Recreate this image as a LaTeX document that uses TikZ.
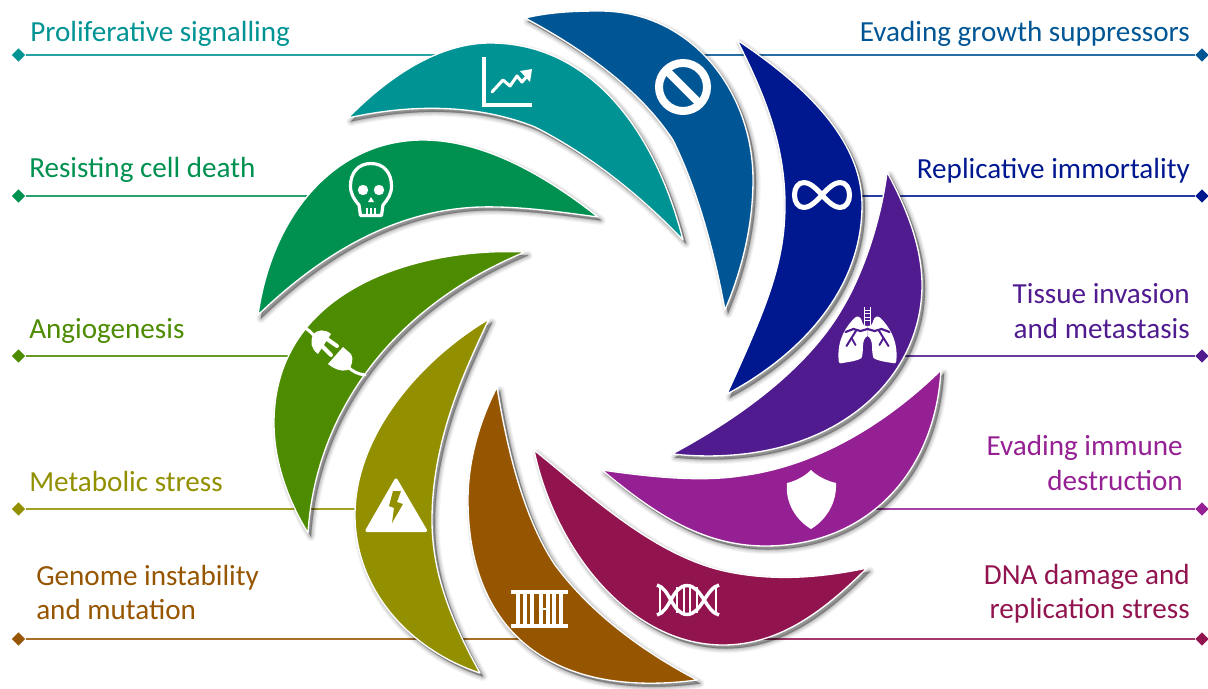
\documentclass[tikz,border=0pt]{standalone}
\usepackage{fontspec}
\setmainfont{Carlito}
\usetikzlibrary{shapes.geometric}
\definecolor{cTeal}{HTML}{009393}
\definecolor{cBlue}{HTML}{005594}
\definecolor{cNavy}{HTML}{00188F}
\definecolor{cPurple}{HTML}{4F1B8F}
\definecolor{cMag}{HTML}{952094}
\definecolor{cCrim}{HTML}{92144E}
\definecolor{cBrown}{HTML}{965500}
\definecolor{cOlive}{HTML}{929000}
\definecolor{cGreen}{HTML}{4D8B00}
\definecolor{cEmer}{HTML}{009150}
\tikzset{
  px/.style={x=0.75pt,y=-0.75pt},
  dia/.style={diamond,aspect=1,fill=#1,draw=none,inner sep=0pt,minimum size=10.2pt},
  lead/.style={draw=#1!85!white,line width=1.5pt},
  lab/.style={font=\fontsize{21.85pt}{26pt}\selectfont,text=#1,inner sep=0pt},
  labl/.style={lab=#1,anchor=base west},
  labr/.style={lab=#1,anchor=base east},
  ico/.style={draw=white,line cap=round,line join=round}
}
\newcommand{\petal}[2]{%
  \foreach \w/\o in {7/.04,5.5/.05,4/.06,2.5/.07,1.2/.08,.4/.09}{%
    \path[shift={(3,3.5)},fill=black,draw=black,line width=\w pt,opacity=\o,line join=round] #2 -- cycle;}
  \path[fill=#1,draw=white,line width=1pt,line join=round] #2 -- cycle;}
\begin{document}
\begin{tikzpicture}[px]
\useasboundingbox (0,0) rectangle (1208,689);
% leaders
\node[dia=cTeal] (d1) at (18.5,55) {};   \coordinate (e1) at (440,55);
\node[dia=cEmer] (d2) at (18.5,196) {};  \coordinate (e2) at (310,196);
\node[dia=cGreen] (d3) at (18.5,356) {}; \coordinate (e3) at (295,356);
\node[dia=cOlive] (d4) at (18.5,509) {}; \coordinate (e4) at (365,509);
\node[dia=cBrown] (d5) at (18.5,639) {}; \coordinate (e5) at (525,639);
\node[dia=cBlue] (d6) at (1202,55) {};   \coordinate (e6) at (700,55);
\node[dia=cNavy] (d7) at (1202,196) {};  \coordinate (e7) at (850,196);
\node[dia=cPurple] (d8) at (1202,356) {}; \coordinate (e8) at (895,356);
\node[dia=cMag] (d9) at (1202,509) {};   \coordinate (e9) at (870,509);
\node[dia=cCrim] (d10) at (1202,639) {}; \coordinate (e10) at (760,639);
\draw[lead=cTeal] (d1)--(e1);
\draw[lead=cEmer] (d2)--(e2);
\draw[lead=cGreen] (d3)--(e3);
\draw[lead=cOlive] (d4)--(e4);
\draw[lead=cBrown] (d5)--(e5);
\draw[lead=cBlue] (d6)--(e6);
\draw[lead=cNavy] (d7)--(e7);
\draw[lead=cPurple] (d8)--(e8);
\draw[lead=cMag] (d9)--(e9);
\draw[lead=cCrim] (d10)--(e10);
% labels
\node[labl=cTeal] (t1) at (30,41) {Proliferative signalling};
\node[labl=cEmer] (t2) at (29,177) {Resisting cell death};
\node[labl=cGreen] (t3) at (29,338.5) {Angiogenesis};
\node[labl=cOlive] (t4) at (29,491.5) {Metabolic stress};
\node[labl=cBrown] (t5a) at (36,585) {Genome instability};
\node[labl=cBrown] (t5b) at (36,619) {and mutation};
\node[labr=cBlue] (t6) at (1190,41) {Evading growth suppressors};
\node[labr=cNavy] (t7) at (1190,178) {Replicative immortality};
\node[labr=cPurple] (t8a) at (1190,303) {Tissue invasion};
\node[labr=cPurple] (t8b) at (1190,338.5) {and metastasis};
\node[labr=cMag] (t9a) at (1183,455) {Evading immune};
\node[labr=cMag] (t9b) at (1183,490.5) {destruction};
\node[labr=cCrim] (t10a) at (1190,584) {DNA damage and};
\node[labr=cCrim] (t10b) at (1190,618.5) {replication stress};
% petals
\petal{cEmer}{(598,217) .. controls (545,175) and (483,140) .. (423,140) .. controls (335,140) and (272,215) .. (258,315) .. controls (310,265) and (385,210) .. (480,207) .. controls (520,206) and (560,212) .. (598,217)}
\petal{cGreen}{(525,252) .. controls (425,247) and (274,285) .. (274,423) .. controls (274,462) and (288,500) .. (308,533) .. controls (315,420) and (385,310) .. (525,252)}
\petal{cOlive}{(489,319) .. controls (420,360) and (355,435) .. (355,515) .. controls (355,590) and (410,650) .. (480,673) .. controls (445,610) and (432,565) .. (432,520) .. controls (432,440) and (465,370) .. (489,319)}
\petal{cBrown}{(497,387) .. controls (480,420) and (468,460) .. (468,500) .. controls (468,625) and (545,700) .. (697,680) .. controls (640,650) and (590,612) .. (555,565) .. controls (525,520) and (508,455) .. (497,387)}
\petal{cCrim}{(534,450) .. controls (555,550) and (630,645) .. (723,645) .. controls (780,645) and (825,610) .. (867,568) .. controls (820,578) and (770,582) .. (720,570) .. controls (650,552) and (590,495) .. (534,450)}
\petal{cMag}{(941,370) .. controls (935,475) and (865,546) .. (765,546) .. controls (700,546) and (650,510) .. (602,470) .. controls (650,477) and (700,482) .. (740,476) .. controls (820,466) and (890,420) .. (941,370)}
\petal{cPurple}{(887,172) .. controls (905,205) and (922,245) .. (922,285) .. controls (922,385) and (825,470) .. (672,454) .. controls (745,415) and (810,365) .. (843,307) .. controls (865,270) and (882,215) .. (887,172)}
\petal{cNavy}{(737,40) .. controls (805,85) and (862,140) .. (862,205) .. controls (862,290) and (800,355) .. (727,394) .. controls (765,310) and (785,265) .. (785,205) .. controls (785,145) and (765,95) .. (737,40)}
\petal{cBlue}{(525,18) .. controls (550,12) and (575,11) .. (600,11) .. controls (690,11) and (753,90) .. (753,180) .. controls (753,225) and (742,270) .. (725,310) .. controls (712,240) and (695,185) .. (673,140) .. controls (640,90) and (585,50) .. (525,18)}
\petal{cTeal}{(348,118) .. controls (390,75) and (440,43) .. (490,43) .. controls (590,43) and (655,130) .. (683,240) .. controls (640,195) and (590,155) .. (535,127) .. controls (480,105) and (415,103) .. (348,118)}
% chart icon
\draw[ico,line width=2.3pt,line cap=butt,line join=miter] (484,57)--(484,105)--(532,105);
\draw[ico,line width=2.3pt] (492,92)--(503,80)--(510,86)--(517,76)--(522,82)--(528,75);
\fill[white] (520,71)--(532,69)--(530,82)--cycle;
% no-entry icon
\draw[draw=white,line width=6pt] (683,87) circle[radius=24];
\draw[draw=white,line width=6pt] (666,70)--(700,104);
% infinity icon
\draw[ico,line width=3.8pt] (822,195) .. controls (829,187) and (835,182.5) .. (840,182.5) .. controls (846,182.5) and (849.5,188) .. (849.5,195) .. controls (849.5,202) and (846,207.5) .. (840,207.5) .. controls (835,207.5) and (829,203) .. (822,195) .. controls (815,187) and (809,182.5) .. (804,182.5) .. controls (798,182.5) and (794.5,188) .. (794.5,195) .. controls (794.5,202) and (798,207.5) .. (804,207.5) .. controls (809,207.5) and (815,203) .. (822,195);
% lungs icon
\foreach \s in {1,-1}{
 \begin{scope}[shift={(867.5,0)},xscale=\s]
  \fill[white] (0,326) .. controls (-4,326) and (-5,324) .. (-6,320) .. controls (-7,317) and (-10,315) .. (-13,318) .. controls (-22,327) and (-30,340) .. (-29,358) .. controls (-29,363) and (-28,364) .. (-25,363) .. controls (-19,362) and (-10,361) .. (-6,358) .. controls (-3,350) and (-7,340) .. (0,336) -- cycle;
  \draw[cPurple,line width=1.6pt,line cap=round] (0,329)--(-7,331)--(-14,329)--(-22,332);
  \draw[cPurple,line width=1.5pt,line cap=round] (-11,330)--(-16,338)--(-21,346);
  \draw[cPurple,line width=1.4pt,line cap=round] (-16,338)--(-12,345);
  \draw[white,line width=.8pt] (-2.7,307)--(-2.7,325);
 \end{scope}}
\foreach \y in {310,313.5,317,320.5}{\draw[white,line width=.7pt] (864.8,\y)--(870.2,\y);}
% shield icon
\fill[white] (811,470) .. controls (817,476) and (827,481) .. (836,483) .. controls (837,503) and (826,520) .. (811,529) .. controls (796,520) and (785,503) .. (787,483) .. controls (796,481) and (805,476) .. cycle;
% dna icon
\draw[ico,line width=2.6pt,line cap=butt] (657,585) .. controls (670,588) and (672,614) .. (687,614.5) .. controls (702,614) and (706,588) .. (719,585);
\draw[ico,line width=2.6pt,line cap=butt] (657,615) .. controls (670,612) and (672,586) .. (687,585.5) .. controls (702,586) and (706,612) .. (719,615);
\foreach \x in {660,677,684,690,697,716}{\draw[white,line width=1.6pt] (\x,587)--(\x,613);}
% chromosome bars icon
\fill[white] (511,590) rectangle (568,594);
\fill[white] (511,624) rectangle (568,628);
\foreach \x in {518,525,532,541,548,554,561}{\draw[white,line width=2.3pt] (\x,592)--(\x,626);}
\draw[white,line width=2pt] (541,609)--(548,609);
% warning icon
\draw[white,fill=white,line width=2.4pt,line join=round] (396,480)--(367,530.5)--(425.5,530.5)--cycle;
\fill[cOlive] (393,491)--(401,491)--(397,502)--(403,504)--(392,523)--(394,508)--(389,506)--cycle;
% plug icon
\draw[ico,line width=2.3pt] (302,327) .. controls (307,328) and (311,332) .. (316,338);
\fill[white] (331,334) .. controls (325,329) and (317,329) .. (313,335) .. controls (310,342) and (311,349) .. (318,354) -- cycle;
\draw[white,line width=3pt,line cap=round] (327,339)--(337,346);
\draw[white,line width=3pt,line cap=round] (322,346)--(331,355);
\fill[white] (343,347)--(328,364) .. controls (334,369) and (341,372) .. (348,370) .. controls (352,367) and (354,358) .. (351,354) -- cycle;
\draw[ico,line width=2.3pt] (347,366) .. controls (353,372) and (358,374) .. (365,375);
% skull icon
\draw[ico,line width=2.4pt] (371,163.5) .. controls (384,163.5) and (391.5,173) .. (391.5,186) .. controls (391.5,194) and (388,199) .. (383,205) -- (381.5,215.5) -- (360.5,215.5) -- (359,205) .. controls (354,199) and (350.5,194) .. (350.5,186) .. controls (350.5,173) and (358,163.5) .. (371,163.5);
\fill[white] (363,190) circle[radius=5.2] (379,190) circle[radius=5.2];
\fill[white] (371,197)--(368,202)--(374,202)--cycle;
\foreach \x in {367,371,375}{\draw[white,line width=1pt] (\x,208)--(\x,215);}
\end{tikzpicture}
\end{document}
